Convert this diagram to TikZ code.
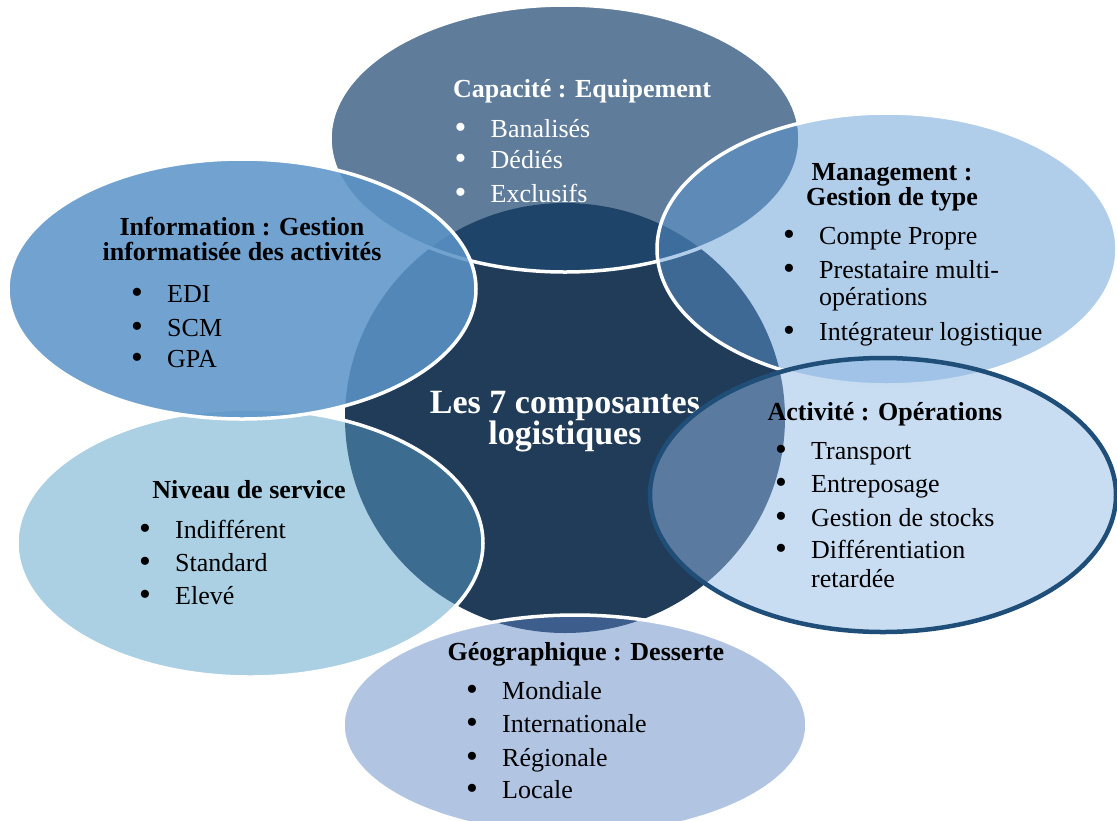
\documentclass[tikz,border=0pt]{standalone}
\usepackage{fontspec}
\setmainfont{Liberation Serif}
\usetikzlibrary{shapes.geometric}
\definecolor{cenC}{RGB}{33,60,89}
\definecolor{capC}{RGB}{30,72,113}
\definecolor{manC}{RGB}{94,153,212}
\definecolor{actC}{RGB}{147,187,229}
\definecolor{actB}{RGB}{31,78,121}
\definecolor{infC}{RGB}{91,148,200}
\definecolor{nivC}{RGB}{87,159,199}
\definecolor{geoC}{RGB}{92,133,196}
\newcommand\bul{\makebox[36pt][l]{\raisebox{-1pt}{\scalebox{1.3}{\textbullet}}}}
\tikzset{
  blob/.style={ellipse, inner sep=0pt, outer sep=0pt, draw=white, line width=3.5pt},
  ttl/.style={font={\fontsize{26}{31}\selectfont\bfseries}, anchor=base, inner sep=0pt},
  itm/.style={font={\fontsize{26}{31}\selectfont}, anchor=base west, inner sep=0pt},
}
\begin{document}
\begin{tikzpicture}[x=1pt,y=-1pt]
\useasboundingbox (0,0) rectangle (1117,820);
% centre
\node[ellipse, inner sep=0pt, fill=cenC, minimum width=440pt, minimum height=430pt] (cen) at (565,418) {};
\node[ttl, text=white, font={\fontsize{34}{31}\selectfont\bfseries}] (cenA) at (565,413) {Les 7 composantes};
\node[ttl, text=white, font={\fontsize{34}{31}\selectfont\bfseries}] (cenB) at (565,444) {logistiques};
% satellites
\node[blob, fill=capC, fill opacity=0.71, minimum width=470pt, minimum height=267pt] (cap) at (565,138.5) {};
\node[blob, fill=manC, fill opacity=0.49, minimum width=460pt, minimum height=272pt] (man) at (887,249) {};
\node[blob, draw=actB, line width=4.5pt, fill=actC, fill opacity=0.5, minimum width=466pt, minimum height=274pt] (act) at (883,495) {};
\node[blob, fill=geoC, fill opacity=0.48, minimum width=464pt, minimum height=220pt] (geo) at (575,725) {};
\node[blob, fill=nivC, fill opacity=0.5, minimum width=466pt, minimum height=268pt] (niv) at (250,543) {};
\node[blob, fill=infC, fill opacity=0.86, minimum width=468pt, minimum height=260pt] (inf) at (242,289) {};
% Capacité
\node[ttl, text=white] (capT) at (582,97) {Capacité : Equipement};
\node[itm, text=white] (cap1) at (454.5,137) {\bul Banalisés};
\node[itm, text=white] (cap2) at (454.5,168) {\bul Dédiés};
\node[itm, text=white] (cap3) at (454.5,202) {\bul Exclusifs};
% Management
\node[ttl] (manT1) at (892,180) {Management :};
\node[ttl] (manT2) at (892,205) {Gestion de type};
\node[itm] (man1) at (783,244) {\bul Compte Propre};
\node[itm] (man2) at (783,278) {\bul Prestataire multi-};
\node[itm] (man3) at (819,305) {opérations};
\node[itm] (man4) at (783,340) {\bul Intégrateur logistique};
% Activité
\node[ttl] (actT) at (885,420) {Activité : Opérations};
\node[itm] (act1) at (775,459) {\bul Transport};
\node[itm] (act2) at (775,492) {\bul Entreposage};
\node[itm] (act3) at (775,526) {\bul Gestion de stocks};
\node[itm] (act4) at (775,558) {\bul Différentiation};
\node[itm] (act5) at (811,587) {retardée};
% Information
\node[ttl] (infT1) at (242,235) {Information : Gestion};
\node[ttl] (infT2) at (242,260) {informatisée des activités};
\node[itm] (inf1) at (131,302) {\bul EDI};
\node[itm] (inf2) at (131,336) {\bul SCM};
\node[itm] (inf3) at (131,367) {\bul GPA};
% Niveau
\node[ttl] (nivT) at (249,498) {Niveau de service};
\node[itm] (niv1) at (139,538) {\bul Indifférent};
\node[itm] (niv2) at (139,571) {\bul Standard};
\node[itm] (niv3) at (139,604) {\bul Elevé};
% Géographique
\node[ttl] (geoT) at (586,660) {Géographique : Desserte};
\node[itm] (geo1) at (466,699) {\bul Mondiale};
\node[itm] (geo2) at (466,732) {\bul Internationale};
\node[itm] (geo3) at (466,766) {\bul Régionale};
\node[itm] (geo4) at (466,798) {\bul Locale};
\end{tikzpicture}
\end{document}
